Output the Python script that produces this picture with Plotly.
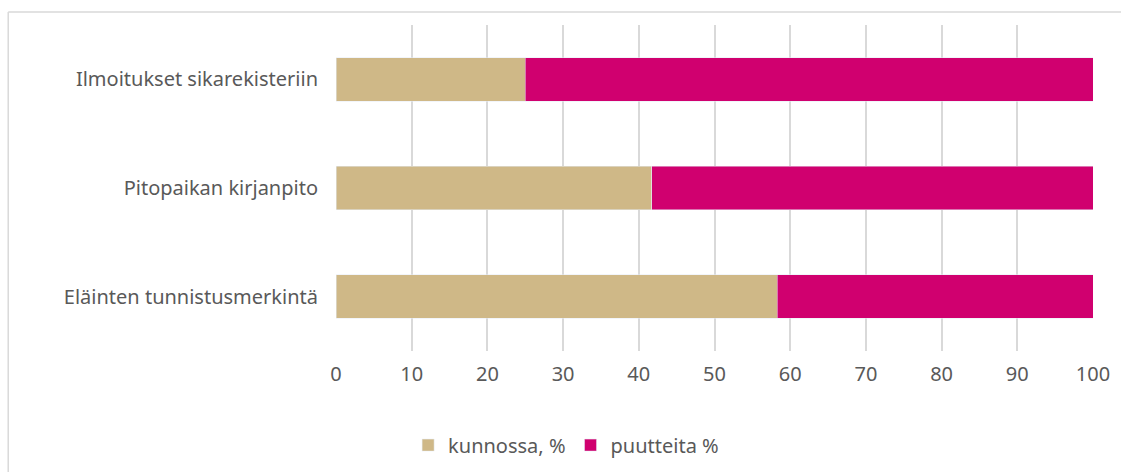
"""Horizontal stacked bar: inspection results by requirement."""

import plotly.graph_objects as go

categories = ["Eläinten tunnistusmerkintä", "Pitopaikan kirjanpito", "Ilmoitukset sikarekisteriin"]
kunnossa = [58.3, 41.7, 25.0]
puutteita = [41.7, 58.3, 75.0]
x_ticks = [0, 10, 20, 30, 40, 50, 60, 70, 80, 90, 100]

TEXT = "#595959"
GRID = "#D9D9D9"
FONT = "Noto Sans"

fig = go.Figure()
fig.add_trace(go.Bar(y=categories, x=kunnossa, name="kunnossa, %", orientation="h", marker_color="#CFB887"))
fig.add_trace(go.Bar(y=categories, x=puutteita, name="puutteita %", orientation="h", marker_color="#D0006F"))

fig.update_layout(
    barmode="stack",
    bargap=0.6,
    width=1121,
    height=472,
    margin=dict(l=336, r=28, t=25, b=121),
    paper_bgcolor="white",
    plot_bgcolor="white",
    font=dict(family=FONT, size=20, color=TEXT),
    legend=dict(
        orientation="h", xref="container", yref="container",
        x=0.505, y=0.057, xanchor="center", yanchor="middle",
        font=dict(size=20, color=TEXT), traceorder="normal",
    ),
    xaxis=dict(
        range=[0, 100], tickvals=x_ticks, showgrid=True, gridcolor=GRID, gridwidth=1.5,
        zeroline=False, showline=False, ticklabelstandoff=9, fixedrange=True,
    ),
    yaxis=dict(showgrid=False, zeroline=False, showline=False, ticklabelstandoff=17),
    # outer chart frame: only the left and top edges fall inside the window
    shapes=[
        dict(type="line", xref="paper", yref="paper", x0=-0.433, x1=-0.433, y0=-0.6, y1=1.04,
             line=dict(color=GRID, width=1.5), layer="below"),
        dict(type="line", xref="paper", yref="paper", x0=-0.433, x1=1.1, y0=1.04, y1=1.04,
             line=dict(color=GRID, width=1.5), layer="below"),
    ],
)

# the page body has a default margin; drop it so the figure sits at the window origin
fig.write_html(
    "out.html",
    config={"displayModeBar": False},
    post_script="document.body.style.margin='0';document.body.style.overflow='hidden';",
)
